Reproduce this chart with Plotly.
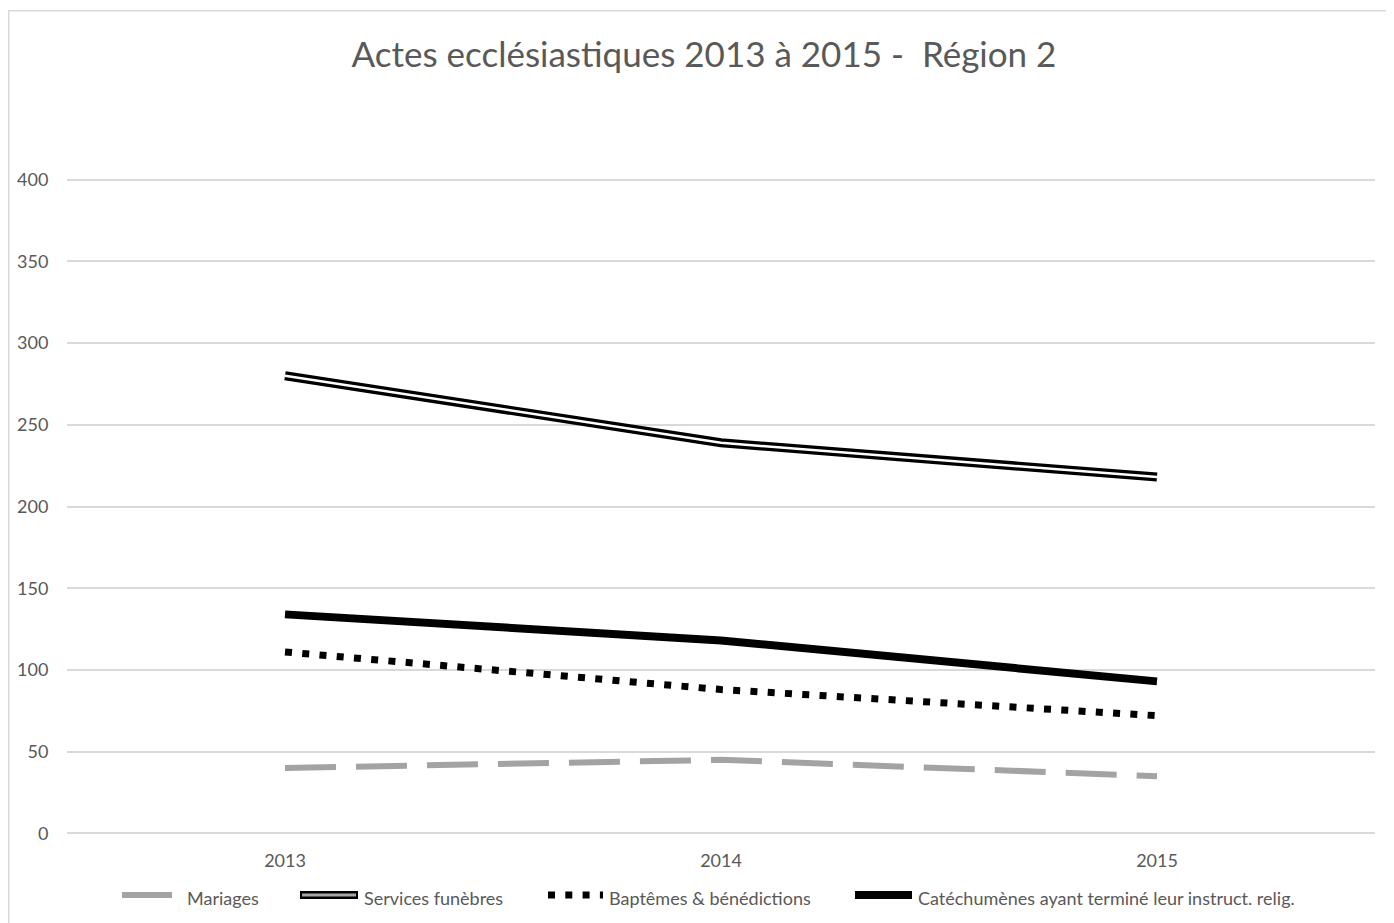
import plotly.graph_objects as go

years = ["2013", "2014", "2015"]
mariages = [40, 45, 35]
services_funebres = [280, 239, 218]
baptemes = [111, 88, 72]
catechumenes = [134, 118, 93]
series_names = ["Mariages", "Services funèbres", "Baptêmes & bénédictions",
                "Catéchumènes ayant terminé leur instruct. relig."]
y_ticks = [0, 50, 100, 150, 200, 250, 300, 350, 400]

# the page body has an 8px margin, so the figure is drawn 8px right/down
OX, OY = 8, 8
W, H = 1394 - OX, 923 - OY
PPU = 653 / 400.0  # pixels per unit on the value axis
L = 67 - OX
R = W - (1375 - OX)
T = int(round(180 - OY - PPU))
B = int(round(H - (833 - OY + PPU)))
FONT = "Lato"
GREY_TXT = "#595959"

fig = go.Figure()
fig.add_trace(go.Scatter(x=years, y=mariages, mode="lines", name=series_names[0],
                         line=dict(color="#a3a3a3", width=6, dash="51px,20px")))
fig.add_trace(go.Scatter(x=years, y=services_funebres, mode="lines", name=series_names[1],
                         line=dict(color="#000000", width=9)))
fig.add_trace(go.Scatter(x=years, y=services_funebres, mode="lines", showlegend=False,
                         line=dict(color="#ffffff", width=2.5)))
fig.add_trace(go.Scatter(x=years, y=baptemes, mode="lines", name=series_names[2],
                         line=dict(color="#000000", width=7, dash="7px,10.3px")))
fig.add_trace(go.Scatter(x=years, y=catechumenes, mode="lines", name=series_names[3],
                         line=dict(color="#000000", width=8)))

pw = W - L - R
ph = H - T - B


def px_x(x):  # screen x -> paper
    return (x - OX - L) / pw


def px_y(y):  # screen y -> paper
    return (H - B - (y - OY)) / ph


shapes = []
# chart frame (left and top edges visible)
shapes.append(dict(type="rect", xref="paper", yref="paper",
                   x0=px_x(8.75), x1=px_x(1430), y0=px_y(960), y1=px_y(10.75),
                   line=dict(color="#d9d9d9", width=1.5), layer="below"))

ly = 895
legend_samples = [
    (122, 172, dict(color="#a3a3a3", width=6), 185),
    (300, 358, dict(color="#000000", width=8), 362),
    (548, 603, dict(color="#000000", width=7, dash="7px,10.3px"), 607),
    (855, 912, dict(color="#000000", width=8), 916),
]
annotations = []
for i, (x0, x1, ln, tx) in enumerate(legend_samples):
    shapes.append(dict(type="line", xref="paper", yref="paper",
                       x0=px_x(x0), x1=px_x(x1), y0=px_y(ly), y1=px_y(ly), line=ln))
    if i == 1:
        shapes.append(dict(type="line", xref="paper", yref="paper",
                           x0=px_x(x0 + 2), x1=px_x(x1 - 2), y0=px_y(ly), y1=px_y(ly),
                           line=dict(color="#a8a8a8", width=3)))
    annotations.append(dict(text=series_names[i], xref="paper", yref="paper",
                            x=px_x(tx), y=px_y(ly + 3), xanchor="left", yanchor="middle",
                            showarrow=False, font=dict(family=FONT, size=18, color=GREY_TXT)))

fig.update_layout(
    width=W, height=H,
    margin=dict(l=L, r=R, t=T, b=B, pad=0, autoexpand=False),
    paper_bgcolor="white", plot_bgcolor="white",
    showlegend=False,
    title=dict(text="Actes ecclésiastiques 2013 à 2015 -  Région 2", xref="paper",
               x=px_x(704), xanchor="center", y=1 - (55 - OY) / H, yanchor="middle",
               automargin=False,
               font=dict(family=FONT, size=35, color=GREY_TXT)),
    font=dict(family=FONT, color=GREY_TXT),
    xaxis=dict(type="category", range=[-0.5, 2.5], showgrid=False, zeroline=False,
               automargin=False,
               showline=False, ticks="outside", ticklen=9, tickcolor="rgba(0,0,0,0)",
               tickfont=dict(size=18, color=GREY_TXT, family=FONT)),
    yaxis=dict(range=[-1, 401], tickvals=y_ticks, showgrid=True, gridcolor="#d9d9d9",
               automargin=False,
               gridwidth=1.5, zeroline=False, showline=False, ticks="outside", ticklen=14,
               tickcolor="rgba(0,0,0,0)", tickfont=dict(size=18, color=GREY_TXT, family=FONT)),
    shapes=shapes, annotations=annotations,
)
fig.write_html("out.html")
